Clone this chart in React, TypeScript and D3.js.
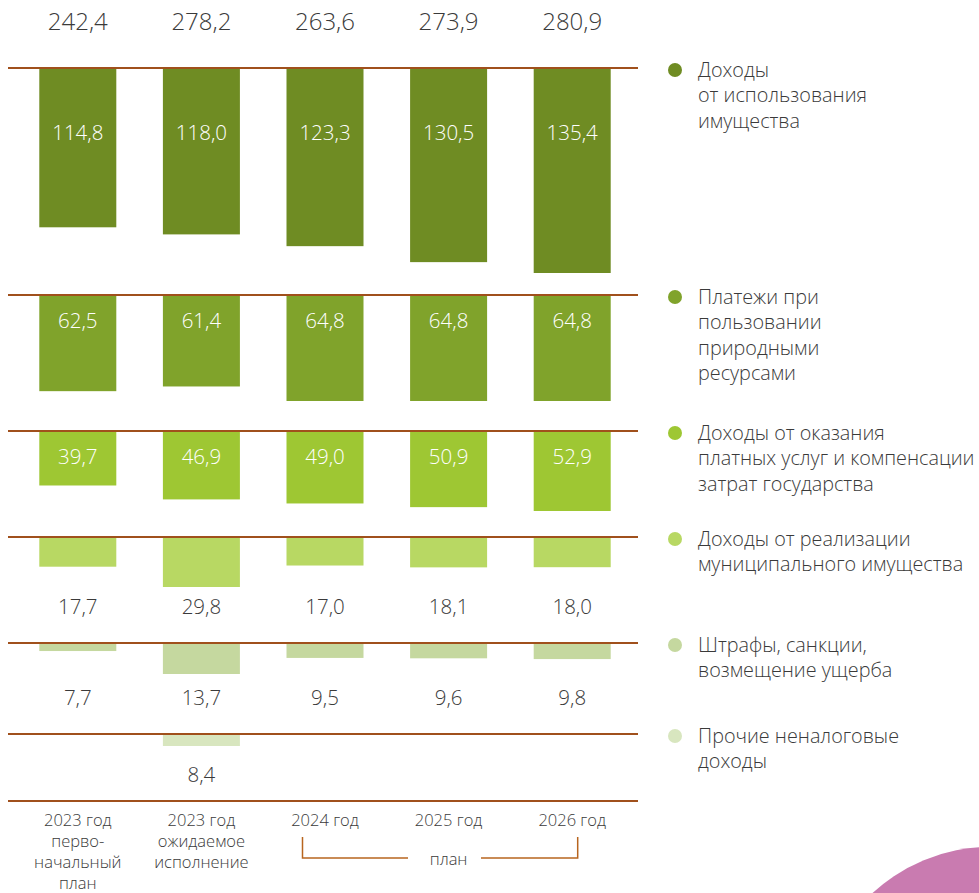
import React from 'react';
import * as d3 from 'd3';

// categories (lines of each x label)
const categoryLabels = [
  ['2023 год', 'перво-', 'начальный', 'план'],
  ['2023 год', 'ожидаемое', 'исполнение'],
  ['2024 год'],
  ['2025 год'],
  ['2026 год']
];
const categories = categoryLabels.map(l => l.join(' '));

const totals = [242.4, 278.2, 263.6, 273.9, 280.9];
const propertyUse = [114.8, 118.0, 123.3, 130.5, 135.4];
const naturalResources = [62.5, 61.4, 64.8, 64.8, 64.8];
const paidServices = [39.7, 46.9, 49.0, 50.9, 52.9];
const propertySales = [17.7, 29.8, 17.0, 18.1, 18.0];
const fines = [7.7, 13.7, 9.5, 9.6, 9.8];
const otherIncome = [null, 8.4, null, null, null];

const legendLabels = [
  ['Доходы', 'от использования', 'имущества'],
  ['Платежи при', 'пользовании', 'природными', 'ресурсами'],
  ['Доходы от оказания', 'платных услуг и компенсации', 'затрат государства'],
  ['Доходы от реализации', 'муниципального имущества'],
  ['Штрафы, санкции,', 'возмещение ущерба'],
  ['Прочие неналоговые', 'доходы']
];

const series = [propertyUse, naturalResources, paidServices, propertySales, fines, otherIncome];

// layout of each row: baseline y, value domain, max bar height, label placement
const rowLayout = [
  { y: 68, domain: [43, 135.4], maxH: 205, labelY: 133, inside: true, color: '#6f8c23' },
  { y: 295, domain: [40, 64.8], maxH: 106, labelY: 321, inside: true, color: '#80a32b' },
  { y: 431, domain: [11.5, 52.9], maxH: 80, labelY: 457, inside: true, color: '#9ec733' },
  { y: 537, domain: [0, 29.8], maxH: 50, labelY: 607, inside: false, color: '#b8d863' },
  { y: 643, domain: [5.6, 13.7], maxH: 31, labelY: 698, inside: false, color: '#c5d89f' },
  { y: 734, domain: [0, 8.4], maxH: 12, labelY: 775, inside: false, color: '#d8e6bf' }
];

const W = 979;
const H = 893;
const font = "'Open Sans', 'Noto Sans', sans-serif";
const textColor = '#3a3a3a';
const lineColor = '#a0501c';

const locale = d3.formatLocale({ decimal: ',', thousands: ' ', grouping: [3], currency: ['', ''] });
const fmt = locale.format('.1f');

export default function App() {
  const x = d3.scaleBand<string>()
    .domain(categories)
    .range([16, 634])
    .paddingInner(0.377)
    .paddingOuter(0.1885);
  const cx = (i: number) => x(categories[i])! + x.bandwidth() / 2;

  const bottomY = 801;

  return (
    <svg width={W} height={H} style={{ position: 'absolute', left: 0, top: 0, background: '#fff' }} fontFamily={font}>
      {/* totals */}
      {totals.map((t, i) => (
        <text key={'t' + i} x={cx(i)} y={22} dy="0.35em"
          textAnchor="middle" fontSize={24} fill={textColor} fontWeight={300}>{fmt(t)}</text>
      ))}

      {rowLayout.map((row, r) => {
        const vals = series[r];
        const h = d3.scaleLinear().domain(row.domain).range([0, row.maxH]);
        return (
          <g key={'row' + r}>
            {vals.map((v, i) => v == null ? null : (
              <g key={i}>
                <rect x={x(categories[i])} y={row.y} width={x.bandwidth()} height={h(v)} fill={row.color} />
                <text x={cx(i)} y={row.labelY} dy="0.35em" textAnchor="middle"
                  fontSize={20.5} fontWeight={300} fill={row.inside ? '#fff' : textColor}>{fmt(v)}</text>
              </g>
            ))}
            <line x1={8} x2={638} y1={row.y} y2={row.y} stroke={lineColor} strokeWidth={2} />
            {/* legend */}
            <circle cx={675} cy={row.y + 2} r={7} fill={row.color} />
            <text x={698} y={row.y + 2} fontSize={19.8} fill={textColor} fontWeight={300}>
              {legendLabels[r].map((l, j) => (
                <tspan key={j} x={698} dy={j === 0 ? '0.35em' : 25.5}>{l}</tspan>
              ))}
            </text>
          </g>
        );
      })}

      <line x1={8} x2={638} y1={bottomY} y2={bottomY} stroke={lineColor} strokeWidth={2} />

      {/* category labels */}
      {categoryLabels.map((lines, i) => (
        <text key={'c' + i} x={cx(i)} y={820}
          textAnchor="middle" fontSize={16.5} fill={textColor} fontWeight={300}>
          {lines.map((l, j) => (
            <tspan key={j} x={cx(i)} dy={j === 0 ? '0.35em' : 21}>{l}</tspan>
          ))}
        </text>
      ))}

      {/* plan bracket */}
      <path d={`M${x(categories[2])! + 16},837 V858 H408`} fill="none" stroke="#b8651f" strokeWidth={1.5} />
      <path d={`M481,858 H${x(categories[4])! + 44} V837`} fill="none" stroke="#b8651f" strokeWidth={1.5} />
      <text x={cx(3)} y={859} dy="0.35em" textAnchor="middle"
        fontSize={16.5} fill={textColor} fontWeight={300}>план</text>

      {/* decorative circle */}
      <circle cx={990} cy={1020} r={173} fill="#c97bb0" />
    </svg>
  );
}
